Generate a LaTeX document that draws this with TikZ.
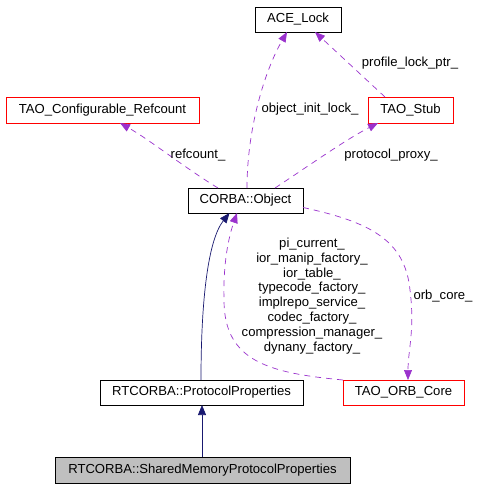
\documentclass[tikz,border=0pt]{standalone}
\usepackage{fontspec}
\setmainfont{Liberation Sans}
\usetikzlibrary{arrows.meta,calc}
\definecolor{edgepurple}{HTML}{9A32CD}
\definecolor{edgenavy}{HTML}{191970}
\definecolor{boxgray}{HTML}{BFBFBF}
\begin{document}
\begin{tikzpicture}[x=1pt,y=-1pt,
  every node/.style={font=\fontsize{13.1}{14.9}\selectfont, inner sep=0pt, outer sep=0pt},
  cls/.style={draw=black, line width=0.8pt, minimum height=25pt, anchor=center},
  redcls/.style={cls, draw=red},
  graycls/.style={cls, fill=boxgray},
  usage/.style={draw=edgepurple, line width=0.7pt, dash pattern=on 6pt off 5pt, -{Triangle[length=10pt,width=8pt,fill=edgepurple]}},
  inherit/.style={draw=edgenavy, line width=0.7pt, -{Triangle[length=10pt,width=8pt,fill=edgenavy]}},
  lbl/.style={align=center, anchor=center}
]
\useasboundingbox (0,0) rectangle (487,488);
\fill[white] (0,0) rectangle (487,488);

\node[cls, minimum width=86pt] (ace) at (298,19.5) {ACE\_Lock};
\node[redcls, minimum width=85pt, minimum height=26pt] (stub) at (410.5,110) {TAO\_Stub};
\node[redcls, minimum width=193pt, minimum height=26pt] (ref) at (102.5,110) {TAO\_Configurable\_Refcount};
\node[cls, minimum width=115pt] (obj) at (245.5,200.5) {CORBA::Object};
\node[redcls, minimum width=121pt] (orb) at (403.5,392.5) {TAO\_ORB\_Core};
\node[cls, minimum width=203pt] (pp) at (201.5,392.5) {RTCORBA::ProtocolProperties};
\node[graycls, minimum width=295pt, minimum height=26pt] (shm) at (202.5,470) {RTCORBA::SharedMemoryProtocolProperties};

% usage edges
\draw[usage] ([xshift=1.5pt]obj.north) .. controls (247,130) and (264,72) .. ([xshift=-11pt]ace.south);
\draw[usage] ([xshift=-25.5pt]stub.north) -- ([xshift=17pt]ace.south);
\draw[usage] ([xshift=29.5pt]obj.north) .. controls (310,165) and (345,140) .. ([xshift=-32.5pt]stub.south);
\draw[usage] ([xshift=-27.5pt]obj.north) .. controls (185,168) and (150,140) .. ([xshift=17.5pt]ref.south);
\draw[usage] ([yshift=-7pt]obj.east) .. controls (370,222) and (405,240) .. (410,290) .. controls (415,330) and (408,350) .. ([xshift=4.5pt]orb.north);
\draw[usage] (orb.north west) .. controls (270,373) and (224,362) .. (224,300) .. controls (223,262) and (229,236) .. ([xshift=-8.5pt]obj.south);

% inheritance
\draw[inherit] ([xshift=-0.5pt]pp.north) .. controls (201,300) and (208,240) .. ([xshift=-16pt]obj.south);
\draw[inherit] ([xshift=0.5pt]pp.south |- shm.north) -- ([xshift=0.5pt]pp.south);

% labels
\node[lbl] (l1) at (410,63) {profile\_lock\_ptr\_};
\node[lbl] (l2) at (310,109) {object\_init\_lock\_};
\node[lbl] (l3) at (198,155) {refcount\_};
\node[lbl] (l4) at (391,155) {protocol\_proxy\_};
\node[lbl] (l5) at (443,296) {orb\_core\_};
\node[lbl] (l6) at (312,296) {pi\_current\_\\ior\_manip\_factory\_\\ior\_table\_\\typecode\_factory\_\\implrepo\_service\_\\codec\_factory\_\\compression\_manager\_\\dynany\_factory\_};
\end{tikzpicture}
\end{document}
